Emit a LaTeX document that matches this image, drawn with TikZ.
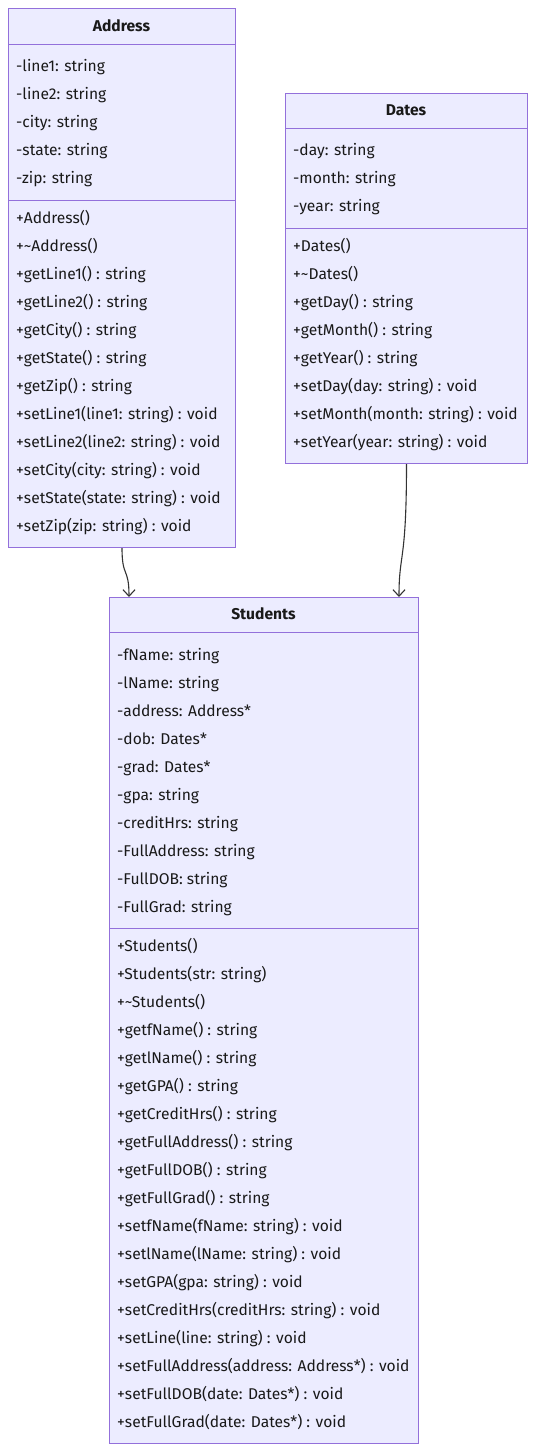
\documentclass[tikz,border=0pt]{standalone}
\usepackage{fontspec}
\setmainfont{Fira Sans}
\usetikzlibrary{arrows.meta,positioning}
\definecolor{boxfill}{HTML}{ECECFF}
\definecolor{boxline}{HTML}{9370DB}
\definecolor{linkline}{HTML}{333333}
\tikzset{
  classbox/.style={draw=boxline, fill=boxfill, line width=1pt, anchor=north west, inner sep=0pt},
  classname/.style={inner sep=0pt, text height=11pt, text depth=4pt, font=\fontsize{15.6}{18}\selectfont\bfseries, text=black!90},
  member/.style={anchor=west, inner sep=0pt, text height=11pt, text depth=4pt, font=\fontsize{15.6}{18}\selectfont, text=black!90},
  divider/.style={draw=boxline, line width=1pt},
  link/.style={draw=linkline, line width=1.1pt, -{Straight Barb[length=6.5pt,width=12pt]}}
}

\begin{document}
\begin{tikzpicture}[x=1pt, y=-1pt]
\useasboundingbox (0,0) rectangle (535,1452);

% Address
\node[classbox, minimum width=227pt, minimum height=539pt] (address) at (8,8) {};
\draw[divider] (8,44) -- (235,44) (8,200) -- (235,200);
\node[classname] (address-name) at (121.5,27.5) {Address};
\foreach \t [count=\i] in {-line1: string, -line2: string, -city: string, -state: string, -zip: string}
  \node[member] (address-a\i) at (16,40+28*\i) {\t};
\foreach \t [count=\i] in {+Address(), +\textasciitilde{}Address(), +getLine1() : string, +getLine2() : string,
    +getCity() : string, +getState() : string, +getZip() : string,
    +setLine1(line1: string) : void, +setLine2(line2: string) : void, +setCity(city: string) : void,
    +setState(state: string) : void, +setZip(zip: string) : void}
  \node[member] (address-m\i) at (16,192+28*\i) {\t};

% Dates
\node[classbox, minimum width=242pt, minimum height=370pt] (dates) at (285,93) {};
\draw[divider] (285,128) -- (527,128) (285,228) -- (527,228);
\node[classname] (dates-name) at (406,111.5) {Dates};
\foreach \t [count=\i] in {-day: string, -month: string, -year: string}
  \node[member] (dates-a\i) at (293,124+28*\i) {\t};
\foreach \t [count=\i] in {+Dates(), +\textasciitilde{}Dates(), +getDay() : string, +getMonth() : string,
    +getYear() : string, +setDay(day: string) : void, +setMonth(month: string) : void,
    +setYear(year: string) : void}
  \node[member] (dates-m\i) at (293,220+28*\i) {\t};

% Students
\node[classbox, minimum width=309pt, minimum height=846pt] (students) at (109,597) {};
\draw[divider] (109,632) -- (418,632) (109,928) -- (418,928);
\node[classname] (students-name) at (263.5,615.5) {Students};
\foreach \t [count=\i] in {-fName: string, -lName: string, -address: Address*, -dob: Dates*,
    -grad: Dates*, -gpa: string, -creditHrs: string, -FullAddress: string, -FullDOB: string,
    -FullGrad: string}
  \node[member] (students-a\i) at (117,629+28*\i) {\t};
\foreach \t [count=\i] in {+Students(), +Students(str: string), +\textasciitilde{}Students(),
    +getfName() : string, +getlName() : string, +getGPA() : string, +getCreditHrs() : string,
    +getFullAddress() : string, +getFullDOB() : string, +getFullGrad() : string,
    +setfName(fName: string) : void, +setlName(lName: string) : void, +setGPA(gpa: string) : void,
    +setCreditHrs(creditHrs: string) : void, +setLine(line: string) : void,
    +setFullAddress(address: Address*) : void, +setFullDOB(date: Dates*) : void,
    +setFullGrad(date: Dates*) : void}
  \node[member] (students-m\i) at (117,920+28*\i) {\t};

% links
\draw[link] (address.south) .. controls +(0,30) and +(0,-30) .. ([xshift=20pt]students.north west);
\draw[link] (dates.south) .. controls +(0,100) and +(0,-45) .. ([xshift=-20pt]students.north east);
\end{tikzpicture}
\end{document}
